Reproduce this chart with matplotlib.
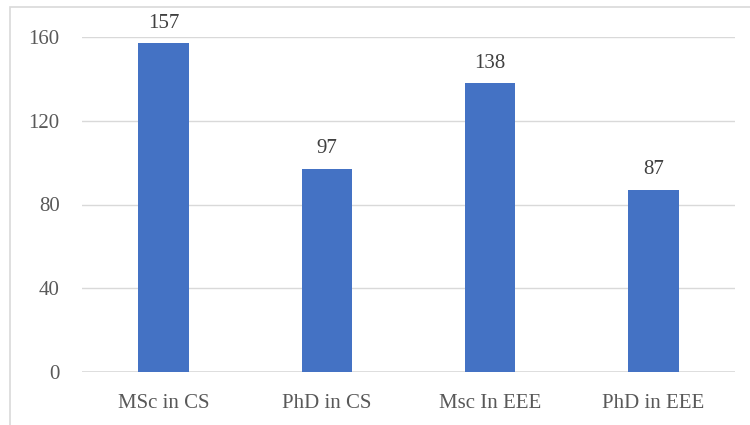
import matplotlib
matplotlib.use("Agg")
import matplotlib.pyplot as plt
from matplotlib.patches import Rectangle

categories = ["MSc in CS", "PhD in CS", "Msc In EEE", "PhD in EEE"]
values = [157, 97, 138, 87]
yticks = [0, 40, 80, 120, 160]

plt.rcParams["font.family"] = ["Liberation Serif", "DejaVu Serif"]
text_color = "#595959"
grid_color = "#d9d9d9"

fig = plt.figure(figsize=(7.5, 4.25), dpi=100)
ax = fig.add_axes([82 / 750, 1 - 372 / 425, (735 - 82) / 750, (372 - 37) / 425])

x = range(len(categories))
bars = ax.bar(x, values, width=0.31, color="#4472c4", zorder=3)
for b, v in zip(bars, values):
    ax.text(b.get_x() + b.get_width() / 2, v + 5, str(v), ha="center", va="bottom",
            fontsize=15, color="#404040")

ax.set_xlim(-0.5, len(categories) - 0.5)
ax.set_ylim(0, 160)
ax.set_yticks(yticks)
ax.set_xticks(list(x))
ax.set_xticklabels(categories)
ax.tick_params(axis="both", length=0, labelsize=15, colors=text_color)
ax.tick_params(axis="y", pad=16)
ax.tick_params(axis="x", pad=16)
ax.yaxis.grid(True, color=grid_color, linewidth=1, zorder=0)
for s in ax.spines.values():
    s.set_visible(False)
ax.axhline(0, color=grid_color, linewidth=1.2, zorder=2)

# chart border
fig.patches.append(Rectangle((10 / 750, -0.1), 1.2, 1.1 - 7 / 425,
                             transform=fig.transFigure, fill=False,
                             edgecolor=grid_color, linewidth=1.2))

fig.savefig("out.png", dpi=100)
